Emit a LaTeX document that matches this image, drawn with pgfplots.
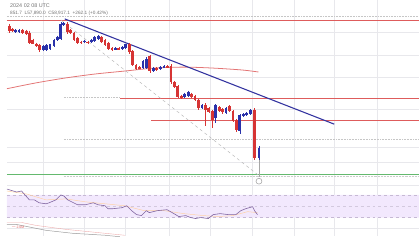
\documentclass[border=0pt]{standalone}
\usepackage{pgfplots}
\pgfplotsset{compat=1.18}
\usepackage{pgfplotstable}
\usepackage{fontspec}
\setmainfont{Liberation Sans}
\definecolor{cred}{RGB}{214,52,52}
\definecolor{cblue}{RGB}{42,50,170}
\definecolor{lred}{RGB}{222,92,92}
\definecolor{tblue}{RGB}{52,52,160}
\definecolor{lav}{RGB}{242,232,253}
\definecolor{rsi}{RGB}{128,100,160}
\definecolor{cgreen}{RGB}{100,185,110}
\definecolor{gridc}{RGB}{232,232,236}

\pgfplotstableread{
x t b h l
2.5 26 31 24 33
6 29 31 28 32
16 30 33 29 34
20 31 34 30 35
23 33 43 31 45
26.5 40 44 39 45
30 44 47 43 48
33.5 46 51 44 53
61.5 24 32 22 34
65 30 33 29 34
68.5 33 40 32 41
72 38 43 37 44
75.5 42 43.5 41 44
82.5 42 43.5 41 44
96.5 37 42 36 43
100 40 46 39 47
103.5 43 50 42 51
107 49 51 48 52
114 49 50.5 48 51
124.5 45 53 43 55
128 52 66 51 67
131.5 66 70 65 71
135 68 69.5 67 70
145.5 57 72 56 74
152.5 69 71 68 72
163.5 67 68.5 66 69
167 67 83 65 85
170.5 83 88 82 89
174 87 98 86 99
177.5 97 99 96 100
188 95 98 94 99
191.5 97 101 96 102
195 101 110 100 112
202 107 112 105 128
205.5 110 114 109 115
209 113 122 112 130
216 109 113 108 114
219.5 111 114 110 116
226.5 108 113 107 114
230 113 123 112 124
233.5 122 132 121 134
252 112 160 110 162
}\reds

\pgfplotstableread{
x t b h l
9 30 32 29 33
12.5 30 32 29 33
37 47 51 46 52
40.5 46 51 45 52
44 45 50 44 51
48 40 47 39 48
51.5 37 40 36 41
55 24 39 22 40
58 23 25 22 26
79 41 42.5 40 43
86 40 42 39 43
89.5 37 41 36 42
93 36 39 35 40
110.5 49 50.5 48 51
117.5 48 50 47 51
121 45 49 44 50
138.5 62 69 61 70
142 60 69 58 70
149 69 72 68 73
156 68 70 67 71
160 67 68.5 66 69
181 95 98 94 99
184.5 93 97 92 98
198.5 107 110 106 111
212.5 107 120 106 125
223 110 115 109 116
237 117 133 116 136
240.5 116 118 115 119
244 115 117 114 118
247.5 112 116 111 117
256.5 150 160 148 162
}\blues

\begin{document}
\begin{tikzpicture}
\begin{axis}[
  scale only axis, width=419pt, height=240pt,
  xmin=0, xmax=419, ymin=0, ymax=240, y dir=reverse,
  axis line style={draw=none},
  xtick={37,79,121,165,207,250,292,333,377},
  ytick={33,56,78,111,150,165,188,232},
  xticklabels={}, yticklabels={},
  major tick length=0pt,
  grid=major, grid style={gridc, line width=0.5pt},
  clip=true,
]
% RSI band
\addplot[fill=lav, draw=none, forget plot] coordinates {(0,198) (419,198) (419,221) (0,221) (0,198)};
\addplot[rsi!45, dashed, line width=0.4pt, forget plot] coordinates {(0,198) (419,198)};
\addplot[rsi!35, dashed, line width=0.4pt, forget plot] coordinates {(0,209.5) (419,209.5)};
\addplot[rsi!45, dashed, line width=0.4pt, forget plot] coordinates {(0,221) (419,221)};
% RSI MA (light orange)
\addplot[orange!35, line width=0.5pt, forget plot] coordinates {(0,194) (20,197) (40,203) (60,202) (80,205) (100,207) (120,209) (140,214) (160,214) (180,217) (200,219) (215,220) (230,219) (245,215) (255,216)};
% RSI line
\addplot[rsi, line width=0.6pt, forget plot] coordinates {(0,192) (10,195) (15,194) (23,203) (28,203) (33,206) (40,207) (43,206) (50,203) (55,198) (58,199) (62,203) (72,208) (80,208) (88,206) (93,208) (100,209) (103,212) (108,212) (117,211) (122,209) (127,214) (132,218) (137,219) (142,214) (145,216) (153,214) (163,213) (170,217) (175,220) (182,219) (187,221) (192,222) (197,221) (205,222) (210,218) (217,217) (225,218) (233,218) (238,214) (243,212) (250,210) (252,214) (255,218)};
% bottom indicator
\addplot[gray!80, line width=0.5pt, forget plot] coordinates {(0,228) (10,228) (20,230) (40,234) (67,237) (100,239) (115,240.5)};
\addplot[lred!50, line width=0.4pt, forget plot] coordinates {(0,226) (15,226) (30,229) (60,233) (90,236) (120,239)};
% horizontal levels
\addplot[gray!45, densely dotted, line width=0.6pt, forget plot] coordinates {(0,16) (419,16)};
\addplot[lred, line width=1.2pt, forget plot] coordinates {(0,21) (419,21)};
\addplot[gray!45, densely dotted, line width=0.6pt, forget plot] coordinates {(58,99) (115,99)};
\addplot[lred, line width=1.1pt, forget plot] coordinates {(115,99.5) (419,99.5)};
\addplot[lred, line width=1.0pt, forget plot] coordinates {(147,122) (419,122)};
\addplot[gray!45, densely dotted, line width=0.6pt, forget plot] coordinates {(58,141) (419,141)};
\addplot[cgreen, line width=0.8pt, forget plot] coordinates {(0,177) (419,177)};
\addplot[gray!40, densely dotted, line width=0.5pt, forget plot] coordinates {(58,179) (419,179)};
% moving average curve
\addplot[lred!85, line width=0.8pt, smooth, forget plot] coordinates {(0,90) (30,84) (60,79) (90,75) (120,72) (150,69) (180,68) (210,69) (240,71) (256,73)};
% dashed diagonal
\addplot[gray!55, dashed, line width=0.5pt, forget plot] coordinates {(55,20) (256,178)};
% trend line
\addplot[tblue, line width=1.1pt, forget plot] coordinates {(59,19) (333,126)};
% candles
\addplot[cred, line width=0.6pt, forget plot, quiver={u=0, v=\thisrow{l}-\thisrow{h}}] table[x=x, y=h] {\reds};
\addplot[cred, line width=2.8pt, forget plot, quiver={u=0, v=\thisrow{b}-\thisrow{t}}] table[x=x, y=t] {\reds};
\addplot[cblue, line width=0.6pt, forget plot, quiver={u=0, v=\thisrow{l}-\thisrow{h}}] table[x=x, y=h] {\blues};
\addplot[cblue, line width=2.8pt, forget plot, quiver={u=0, v=\thisrow{b}-\thisrow{t}}] table[x=x, y=t] {\blues};
% event marker
\addplot[gray!70, line width=0.5pt, forget plot] coordinates {(256.5,162) (256.5,180)};
\addplot[only marks, mark=o, mark size=3pt, gray!70, mark options={line width=0.6pt, fill=white}, forget plot] coordinates {(256.5,184)};
% header text
\node[anchor=west, font=\fontsize{5.5}{6}\selectfont, text=gray!90!black] at (axis cs:0,5) {2024 02 08 UTC};
\node[anchor=west, font=\fontsize{4.8}{6}\selectfont, text=gray!90!black] at (axis cs:0,13) {851.7\ \ L57,890.0\ \ C58,917.1\ \ +262.1 (+0.42\%)};
\node[anchor=west, font=\fontsize{3.5}{4}\selectfont, text=lred] at (axis cs:1,231) {$-$2.0M};
\end{axis}
\end{tikzpicture}
\end{document}
